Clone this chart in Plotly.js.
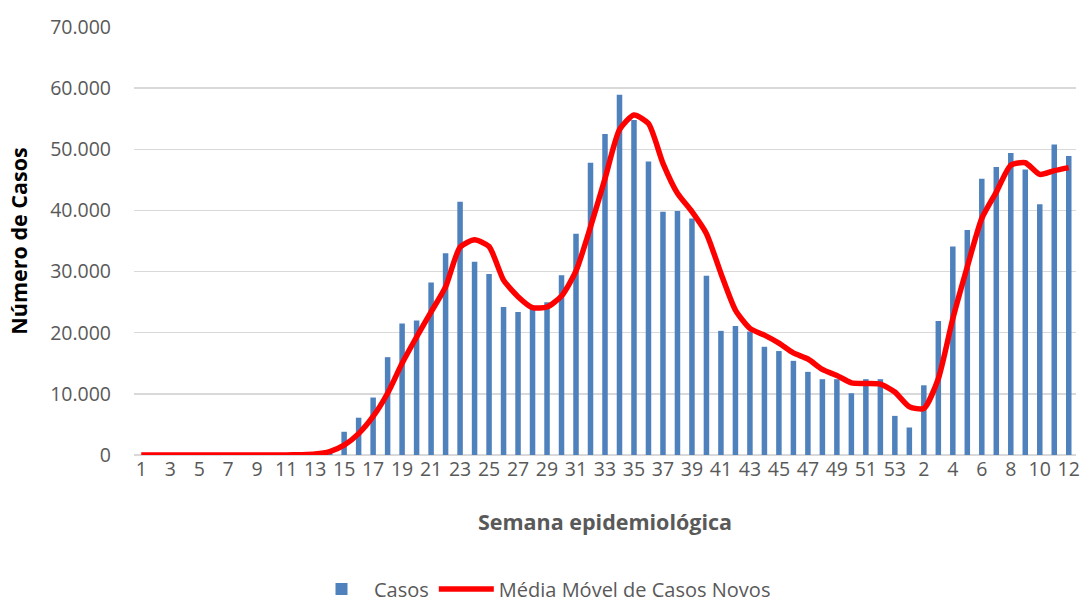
<!DOCTYPE html>
<html>
<head>
<meta charset="utf-8">
<script src="https://cdn.plot.ly/plotly-3.0.1.min.js"></script>
<style>html,body{margin:0;padding:0;background:#fff;}#chart{width:1085px;height:604px;}</style>
</head>
<body>
<div id="chart"></div>
<script>
// Week labels: epidemiological weeks 1..53 (2020) then 1..12 (2021)
const weekLabels = [
  "1","2","3","4","5","6","7","8","9","10","11","12","13","14","15","16","17","18","19","20",
  "21","22","23","24","25","26","27","28","29","30","31","32","33","34","35","36","37","38","39","40",
  "41","42","43","44","45","46","47","48","49","50","51","52","53",
  "1","2","3","4","5","6","7","8","9","10","11","12"
];
// Weekly cases (bars)
const casos = [
  0,0,0,0,0,0,0,0,0,0,30,60,150,500,3800,6100,9400,16000,21500,22000,
  28200,33000,41400,31600,29600,24200,23400,24000,25000,29400,36200,47800,52500,58900,54800,48000,39800,39900,38700,29300,
  20300,21100,20200,17700,17000,15400,13600,12400,12400,10100,12400,12400,6400,
  4500,11400,21900,34100,36800,45200,47100,49400,46700,41000,50800,48900
];
// Moving average of new cases (line)
const mediaMovel = [
  0,0,0,0,0,0,0,0,0,0,0,50,150,550,1600,3500,6300,10100,15000,19300,
  23400,27500,34000,35200,34100,28600,25900,24100,24200,26000,30100,37300,45200,53200,55600,54200,47700,42800,39800,36200,
  29700,23700,20700,19600,18300,16700,15700,14000,13000,11800,11700,11600,10300,
  7900,7600,12500,22300,30800,38700,43000,47400,47800,45900,46500,47000
];
const yTicks = [0,10000,20000,30000,40000,50000,60000,70000];

const idx = weekLabels.map((_, i) => i);
const tickIdx = idx.filter(i => (i < 53 ? i % 2 === 0 : (i - 53) % 2 === 1));
const tickTxt = tickIdx.map(i => weekLabels[i]);

const traces = [
  {
    type: 'bar', x: idx, y: casos, name: 'Casos',
    marker: {color: '#4F81BD'}, hoverinfo: 'y'
  },
  {
    type: 'scatter', mode: 'lines', x: idx, y: mediaMovel,
    name: 'Média Móvel de Casos Novos',
    line: {color: '#FF0000', width: 5.5, shape: 'spline', smoothing: 0.6}
  }
];

const layout = {
  width: 1085, height: 604,
  margin: {l: 134, r: 9, t: 27, b: 149, autoexpand: false},
  paper_bgcolor: '#fff', plot_bgcolor: '#fff',
  separators: ',.',
  font: {family: 'Open Sans, sans-serif', size: 19, color: '#595959'},
  bargap: 0.62,
  showlegend: true,
  legend: {orientation: 'h', xref: 'container', yref: 'paper', x: 0.5, xanchor: 'center', y: -0.313, yanchor: 'middle',
           font: {size: 20, color: '#595959'}, traceorder: 'normal', itemwidth: 55},
  xaxis: {
    range: [-0.5, 64.5], tickmode: 'array', tickvals: tickIdx, ticktext: tickTxt,
    showgrid: false, zeroline: false, showline: false, ticks: '', automargin: false,
    tickangle: 0, tickfont: {size: 19.5, color: '#595959'},
    title: {text: 'Semana epidemiológica', standoff: 34,
            font: {size: 21.5, color: '#595959', family: 'Open Sans, sans-serif', weight: 'bold'}}
  },
  yaxis: {
    range: [0, 70000], tickmode: 'array', tickvals: yTicks,
    tickformat: ',d', showgrid: true, gridcolor: '#D9D9D9', gridwidth: 1.5, automargin: false,
    zeroline: true, zerolinecolor: '#D9D9D9', zerolinewidth: 1.5, showline: false, ticks: '',
    tickfont: {size: 19.5, color: '#595959'}, ticklabelstandoff: 22,
    title: {text: 'Número de Casos', standoff: 16,
            font: {size: 21.5, color: '#000000', family: 'Open Sans, sans-serif', weight: 'bold'}}
  }
};

Plotly.newPlot('chart', traces, layout, {displayModeBar: false, staticPlot: true});
</script>
</body>
</html>
